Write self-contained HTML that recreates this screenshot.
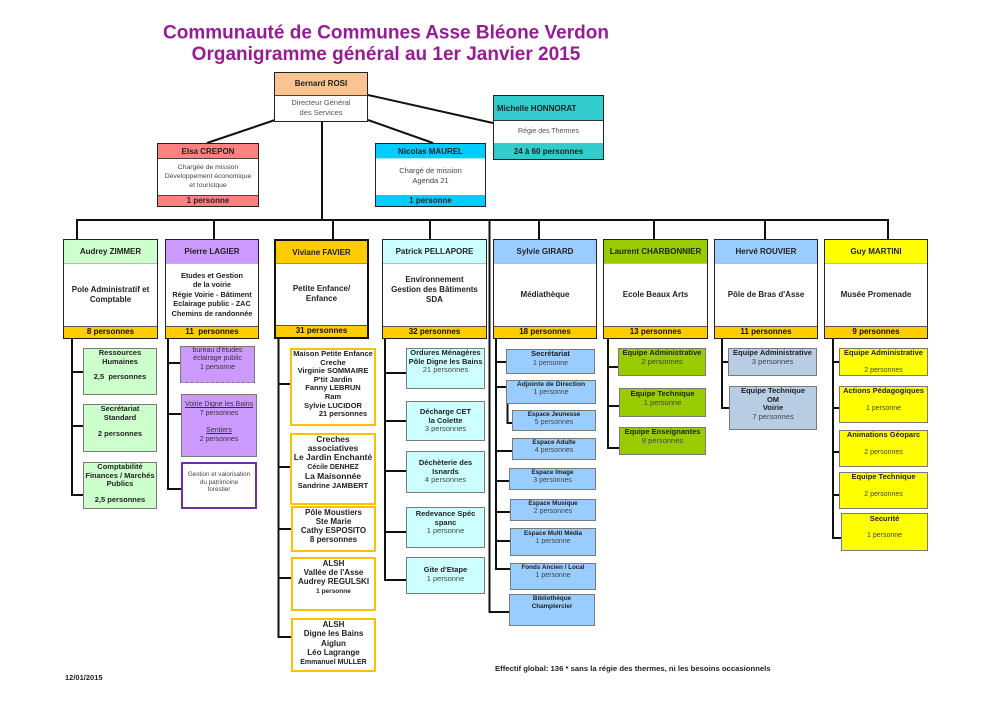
<!DOCTYPE html>
<html><head><meta charset="utf-8">
<style>
body{margin:0;width:992px;height:701px;position:relative;background:#fff;overflow:hidden;font-family:"Liberation Sans",Arial,sans-serif;}
.a{position:absolute;box-sizing:border-box;}
.sb{position:absolute;box-sizing:border-box;border:1.5px solid #7a7a7a;text-align:center;color:#222;font-size:7.5px;line-height:8.5px;white-space:nowrap;}
.b{font-weight:bold;color:#222;}
.r{font-weight:normal;color:#444;}
.col{position:absolute;top:239px;height:100px;box-sizing:border-box;border:1.5px solid #222;background:#fff;}
.col>.h{position:absolute;left:0;right:0;top:0;height:23px;line-height:23px;text-align:center;font-weight:bold;font-size:8px;color:#222;border-bottom:1px solid #bbb;white-space:nowrap;}
.col>.m{position:absolute;left:0;right:0;top:23px;height:63px;display:flex;align-items:center;justify-content:center;text-align:center;font-weight:bold;font-size:8px;line-height:10px;color:#222;}
.col>.c{position:absolute;left:0;right:0;bottom:0;height:11px;line-height:10px;background:#FFCC00;border-top:1px solid #555;text-align:center;font-weight:bold;font-size:8px;color:#111;}
.top{position:absolute;box-sizing:border-box;border:1.5px solid #222;background:#fff;text-align:center;}
</style></head>
<body>
<svg width="992" height="701" style="position:absolute;left:0;top:0" fill="none" stroke="#111" stroke-width="2">
<text x="386" y="38.5" text-anchor="middle" fill="#951C95" stroke="none" font-family="Liberation Sans, Arial, sans-serif" font-weight="bold" font-size="19">Communauté de Communes Asse Bléone Verdon</text>
<text x="386" y="60" text-anchor="middle" fill="#951C95" stroke="none" font-family="Liberation Sans, Arial, sans-serif" font-weight="bold" font-size="19">Organigramme général au 1er Janvier 2015</text>
<path d="M368 95 L493 123"/>
<path d="M368 120 L433 143"/>
<path d="M275 120 L207 143"/>
<path d="M322 121 V220"/>
<path d="M76 220 H889"/>
<path d="M77 220V239 M214 220V239 M333 220V239 M430 220V239 M539 220V239 M654 220V239 M765 220V239 M888 220V239"/>
<path d="M489.5 220 V612 H509"/>
<path d="M72 338V495H83 M72 372H83 M72 426H83"/>
<path d="M168 338V489H181 M168 363H180 M168 414H181"/>
<path d="M278.5 338V637H291 M278.5 384H290 M278.5 467H290 M278.5 529H291 M278.5 578H291"/>
<path d="M385 338V580H406 M385 373H406 M385 421H406 M385 471H406 M385 532H406"/>
<path d="M496 338V569H510 M496 362H506 M496 387H506 M496 451H512 M496 481H509 M496 512H510 M496 541H510"/>
<path d="M507.5 403V423H512"/>
<path d="M608 338V448H619 M608 367H618 M608 406H619"/>
<path d="M722 338V408H729 M722 362H728"/>
<path d="M833 338V538H841 M833 362H839 M833 408H839 M833 452H839 M833 495H839"/>
</svg>

<!-- Top boxes -->
<div class="top" style="left:274px;top:72px;width:94px;height:50px;">
  <div class="a" style="left:0;right:0;top:0;height:23px;background:#FAC38F;border-bottom:1px solid #444;line-height:22px;font-size:8px;font-weight:bold;color:#222;">Bernard ROSI</div>
  <div class="a" style="left:0;right:0;top:25px;font-size:7.5px;line-height:10px;color:#555;">Directeur Général<br>des Services</div>
</div>

<div class="top" style="left:493px;top:95px;width:111px;height:65px;">
  <div class="a" style="left:0;right:0;top:0;height:25px;background:#33CCCC;border-bottom:1.5px solid #333;line-height:25px;font-size:8px;font-weight:bold;color:#222;text-align:left;padding-left:3px;">Michelle HONNORAT</div>
  <div class="a" style="left:0;right:0;top:25px;height:21px;line-height:21px;font-size:7px;color:#555;">Régie des Thermes</div>
  <div class="a" style="left:0;right:0;bottom:0;height:16px;background:#33CCCC;line-height:17px;font-size:8px;font-weight:bold;color:#222;">24 à 60 personnes</div>
</div>

<div class="top" style="left:375px;top:143px;width:111px;height:64px;">
  <div class="a" style="left:0;right:0;top:0;height:15px;background:#00CCFF;border-bottom:1px solid #9ee;line-height:15px;font-size:8px;font-weight:bold;color:#222;">Nicolas MAUREL</div>
  <div class="a" style="left:0;right:0;top:22px;font-size:7.5px;line-height:10px;color:#444;">Chargé de mission<br>Agenda 21</div>
  <div class="a" style="left:0;right:0;bottom:0;height:11px;background:#00CCFF;line-height:11px;font-size:8px;font-weight:bold;color:#222;">1 personne</div>
</div>

<div class="top" style="left:157px;top:143px;width:102px;height:64px;">
  <div class="a" style="left:0;right:0;top:0;height:15px;background:#FF8080;border-bottom:1px solid #444;line-height:15px;font-size:8px;font-weight:bold;color:#222;">Elsa CREPON</div>
  <div class="a" style="left:0;right:0;top:19px;font-size:6.8px;line-height:9px;color:#444;">Chargée de mission<br>Développement économique<br>et touristque</div>
  <div class="a" style="left:0;right:0;bottom:0;height:11px;background:#FF8080;border-top:1px solid #444;line-height:10px;font-size:8px;font-weight:bold;color:#222;">1 personne</div>
</div>

<!-- Columns -->
<div class="col" style="left:63px;width:95px;"><div class="h" style="background:#CCFFCC">Audrey ZIMMER</div><div class="m">Pole Administratif et<br>Comptable</div><div class="c">8 personnes</div></div>
<div class="col" style="left:165px;width:94px;"><div class="h" style="background:#CC99FF">Pierre LAGIER</div><div class="m" style="font-size:7.3px;line-height:9.5px;">Etudes et Gestion<br>de la voirie<br>Régie Voirie - Bâtiment<br>Eclairage public - ZAC<br>Chemins de randonnée</div><div class="c">11&nbsp; personnes</div></div>
<div class="col" style="left:274px;width:95px;border:2.5px solid #111;"><div class="h" style="background:#FFCC00;height:22px;border-bottom:1px solid #c6c">Viviane FAVIER</div><div class="m" style="top:22px;height:62px;">Petite Enfance/<br>Enfance</div><div class="c">31 personnes</div></div>
<div class="col" style="left:382px;width:105px;"><div class="h" style="background:#CCFFFF">Patrick PELLAPORE</div><div class="m" style="padding-bottom:10px;box-sizing:border-box;">Environnement<br>Gestion des Bâtiments<br>SDA</div><div class="c">32 personnes</div></div>
<div class="col" style="left:493px;width:104px;"><div class="h" style="background:#99CCFF">Sylvie GIRARD</div><div class="m">Médiathèque</div><div class="c">18 personnes</div></div>
<div class="col" style="left:603px;width:105px;"><div class="h" style="background:#99CC00">Laurent CHARBONNIER</div><div class="m">Ecole Beaux Arts</div><div class="c">13 personnes</div></div>
<div class="col" style="left:714px;width:104px;"><div class="h" style="background:#99CCFF">Hervé ROUVIER</div><div class="m">Pôle de Bras d'Asse</div><div class="c">11 personnes</div></div>
<div class="col" style="left:824px;width:104px;"><div class="h" style="background:#FFFF00">Guy MARTINI</div><div class="m">Musée Promenade</div><div class="c">9 personnes</div></div>

<!-- Audrey subs -->
<div class="sb b" style="left:83px;top:348px;width:74px;height:47px;background:#CCFFCC;">Ressources<br>Humaines<div style="height:7px"></div>2,5&nbsp; personnes</div>
<div class="sb b" style="left:83px;top:404px;width:74px;height:48px;background:#CCFFCC;">Secrétariat<br>Standard<div style="height:8px"></div>2 personnes</div>
<div class="sb b" style="left:83px;top:462px;width:74px;height:47px;background:#CCFFCC;">Comptabilité<br>Finances / Marchés<br>Publics<div style="height:7.5px"></div>2,5 personnes</div>

<!-- Pierre subs -->
<div class="sb r" style="left:180px;top:346px;width:75px;height:37px;background:#CC99FF;font-size:7px;line-height:8.3px;border-bottom-style:dashed;color:#333;">bureau d'études<br>éclairage public<br>1 personne</div>
<div class="sb r" style="left:181px;top:394px;width:76px;height:63px;background:#CC99FF;font-size:7px;padding-top:6px;color:#333;"><u>Voirie Digne les Bains</u><br>7 personnes<div style="height:9px"></div><u>Sentiers</u><br>2 personnes</div>
<div class="sb r" style="left:181px;top:462px;width:76px;height:47px;background:#fff;border:2px solid #7030A0;font-size:6.3px;line-height:7.5px;padding-top:7px;color:#444;">Gestion et valorisation<br>du patrimoine<br>forestier</div>

<!-- Viviane subs -->
<div class="sb b" style="left:290px;top:348px;width:86px;height:78px;background:#fff;border:2px solid #FFC000;line-height:8.6px;">Maison Petite Enfance<br>Creche<br>Virginie SOMMAIRE<br>P'tit Jardin<br>Fanny LEBRUN<br>Ram<br>Sylvie LUCIDOR<br><span style="padding-left:20px">21 personnes</span></div>
<div class="sb b" style="left:290px;top:433px;width:86px;height:72px;background:#fff;border:2px solid #FFC000;line-height:9px;"><span style="font-size:8.5px">Creches<br>associatives<br>Le Jardin Enchanté</span><br><span style="font-size:7px">Cécile DENHEZ</span><br><span style="font-size:8.5px">La Maisonnée</span><br><span style="font-size:7.5px">Sandrine JAMBERT</span></div>
<div class="sb b" style="left:291px;top:506px;width:85px;height:46px;background:#fff;border:2px solid #FFC000;font-size:8px;line-height:9px;">Pôle Moustiers<br>Ste Marie<br>Cathy ESPOSITO<br>8 personnes</div>
<div class="sb b" style="left:291px;top:557px;width:85px;height:54px;background:#fff;border:2px solid #FFC000;font-size:8px;line-height:9px;">ALSH<br>Vallée de l'Asse<br>Audrey REGULSKI<br><span style="font-size:6.5px;line-height:11px">1 personne</span></div>
<div class="sb b" style="left:291px;top:618px;width:85px;height:54px;background:#fff;border:2px solid #FFC000;font-size:8px;line-height:9.3px;">ALSH<br>Digne les Bains<br>Aiglun<br>Léo Lagrange<br><span style="font-size:7px">Emmanuel MULLER</span></div>

<!-- Patrick subs -->
<div class="sb b" style="left:406px;top:348px;width:79px;height:41px;background:#CCFFFF;">Ordures Ménagères<br>Pôle Digne les Bains<br><span class="r">21 personnes</span></div>
<div class="sb b" style="left:406px;top:401px;width:79px;height:40px;background:#CCFFFF;padding-top:6px;">Décharge CET<br>la Colette<br><span class="r">3 personnes</span></div>
<div class="sb b" style="left:406px;top:451px;width:79px;height:42px;background:#CCFFFF;padding-top:7px;">Déchèterie des<br>Isnards<br><span class="r">4 personnes</span></div>
<div class="sb b" style="left:406px;top:507px;width:79px;height:41px;background:#CCFFFF;padding-top:2px;">Redevance Spéc<br>spanc<br><span class="r">1 personne</span></div>
<div class="sb b" style="left:406px;top:557px;width:79px;height:37px;background:#CCFFFF;padding-top:8px;">Gite d'Etape<br><span class="r">1 personne</span></div>

<!-- Sylvie subs -->
<div class="sb b" style="left:506px;top:349px;width:89px;height:25px;background:#99CCFF;">Secrétariat<br><span class="r" style="font-size:7px">1 personne</span></div>
<div class="sb b" style="left:506px;top:380px;width:90px;height:24px;background:#99CCFF;font-size:6.8px;line-height:8.3px;">Adjointe de Direction<br><span class="r" style="font-size:7px">1 personne</span></div>
<div class="sb b" style="left:512px;top:410px;width:84px;height:21px;background:#99CCFF;font-size:6.3px;line-height:8px;">Espace Jeunesse<br><span class="r" style="font-size:7px">5 personnes</span></div>
<div class="sb b" style="left:512px;top:438px;width:84px;height:22px;background:#99CCFF;font-size:6.3px;line-height:8px;">Espace Adulte<br><span class="r" style="font-size:7px">4 personnes</span></div>
<div class="sb b" style="left:509px;top:468px;width:87px;height:22px;background:#99CCFF;font-size:6.3px;line-height:8px;">Espace Image<br><span class="r" style="font-size:7px">3 personnes</span></div>
<div class="sb b" style="left:510px;top:499px;width:86px;height:22px;background:#99CCFF;font-size:6.3px;line-height:8px;">Espace Musique<br><span class="r" style="font-size:7px">2 personnes</span></div>
<div class="sb b" style="left:510px;top:528px;width:86px;height:28px;background:#99CCFF;font-size:6.3px;line-height:8px;padding-top:1px;">Espace Multi Média<br><span class="r" style="font-size:7px">1 personne</span></div>
<div class="sb b" style="left:510px;top:563px;width:86px;height:27px;background:#99CCFF;font-size:6.3px;line-height:8px;">Fonds Ancien / Local<br><span class="r" style="font-size:7px">1 personne</span></div>
<div class="sb b" style="left:509px;top:594px;width:86px;height:32px;background:#99CCFF;font-size:6.3px;line-height:8px;">Bibliothèque<br>Champtercier</div>

<!-- Laurent subs -->
<div class="sb b" style="left:618px;top:348px;width:88px;height:28px;background:#99CC00;">Equipe Administrative<br><span class="r">2 personnes</span></div>
<div class="sb b" style="left:619px;top:388px;width:87px;height:29px;background:#99CC00;padding-top:1px;">Equipe Technique<br><span class="r">1 personne</span></div>
<div class="sb b" style="left:619px;top:427px;width:87px;height:28px;background:#99CC00;">Equipe Enseignantes<br><span class="r">9 personnes</span></div>

<!-- Hervé subs -->
<div class="sb b" style="left:728px;top:348px;width:89px;height:28px;background:#B8CCE4;">Equipe Administrative<br><span class="r">3 personnes</span></div>
<div class="sb b" style="left:729px;top:386px;width:88px;height:44px;background:#B8CCE4;">Equipe Technique<br>OM<br>Voirie<br><span class="r">7 personnes</span></div>

<!-- Guy subs -->
<div class="sb b" style="left:839px;top:348px;width:89px;height:28px;background:#FFFF00;">Equipe Administrative<div style="height:8px"></div><span class="r" style="font-size:7px">2 personnes</span></div>
<div class="sb b" style="left:839px;top:386px;width:89px;height:37px;background:#FFFF00;">Actions Pédagogiques<div style="height:8px"></div><span class="r" style="font-size:7px">1 personne</span></div>
<div class="sb b" style="left:839px;top:430px;width:89px;height:37px;background:#FFFF00;">Animations Géoparc<div style="height:8px"></div><span class="r" style="font-size:7px">2 personnes</span></div>
<div class="sb b" style="left:839px;top:472px;width:89px;height:37px;background:#FFFF00;">Equipe Technique<div style="height:8px"></div><span class="r" style="font-size:7px">2 personnes</span></div>
<div class="sb b" style="left:841px;top:513px;width:87px;height:38px;background:#FFFF00;padding-top:1px;">Securité<div style="height:7px"></div><span class="r" style="font-size:7px">1 personne</span></div>

<!-- Footer -->
<div class="a" style="left:495px;top:664px;font-size:7.7px;line-height:10px;font-weight:bold;color:#222;white-space:nowrap;">Effectif global: 136 * sans la régie des thermes, ni les besoins occasionnels</div>
<div class="a" style="left:65px;top:673px;font-size:7.5px;line-height:10px;font-weight:bold;color:#222;">12/01/2015</div>
</body></html>
